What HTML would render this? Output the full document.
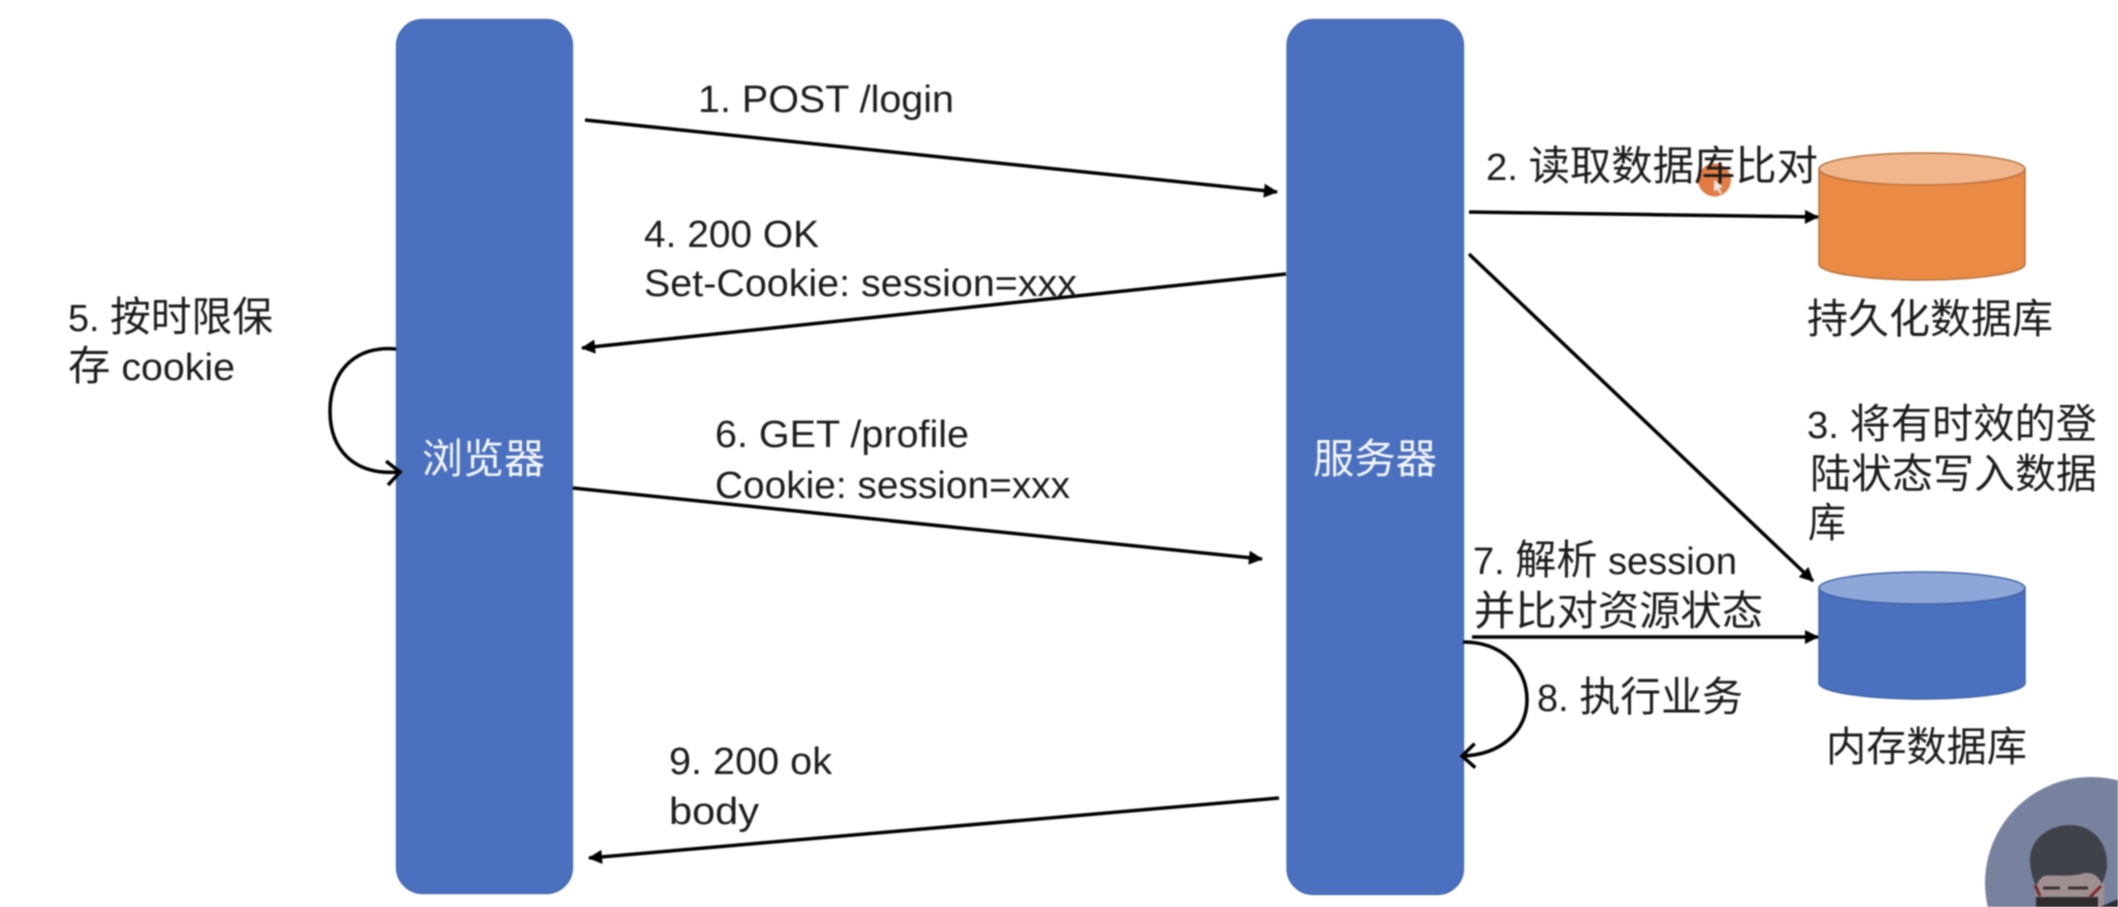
<!DOCTYPE html>
<html lang="zh">
<head>
<meta charset="utf-8">
<title>Session login flow</title>
<style>
html,body{margin:0;padding:0;background:#fff;width:2118px;height:907px;overflow:hidden}
svg{display:block;filter:blur(.7px)}
text{font-family:"Liberation Sans","Noto Sans CJK SC",sans-serif;font-size:38px;fill:#1c1c1c}
.c,tspan.c{font-size:41px}
.w{fill:#f4f6fb}
.ln{stroke:#000;stroke-width:3.5;fill:none}
</style>
</head>
<body>
<svg width="2118" height="907" viewBox="0 0 2118 907" xmlns="http://www.w3.org/2000/svg">
<defs>
<marker id="a" markerUnits="userSpaceOnUse" markerWidth="16" markerHeight="16" refX="14" refY="8" orient="auto"><path d="M1 1 L15 8 L1 15 Z" fill="#000"/></marker>
<marker id="o" markerUnits="userSpaceOnUse" markerWidth="24" markerHeight="28" refX="16" refY="14" orient="auto"><path d="M3 2 L16 14 L3 26" fill="none" stroke="#000" stroke-width="3.5"/></marker>
<clipPath id="cam"><circle cx="2091" cy="883" r="106"/></clipPath>
</defs>
<rect width="2118" height="907" fill="#fff"/>

<rect x="396.5" y="19.5" width="176" height="874" rx="26" fill="#4b70bf" stroke="#4166ae" stroke-width="1.2"/>
<rect x="1287" y="19.5" width="176.5" height="875" rx="26" fill="#4b70bf" stroke="#4166ae" stroke-width="1.2"/>

<path d="M1819 169 V264 A103 16 0 0 0 2025 264 V169 Z" fill="#ea8a45" stroke="#b5703b" stroke-width="1.5"/>
<ellipse cx="1922" cy="169" rx="103" ry="16" fill="#f2b68c" stroke="#b5703b" stroke-width="1.5"/>
<path d="M1819 588 V683 A103 16 0 0 0 2025 683 V588 Z" fill="#4b70bf" stroke="#3e62a6" stroke-width="1.5"/>
<ellipse cx="1922" cy="588" rx="103" ry="16" fill="#8fa6d8" stroke="#3e62a6" stroke-width="1.5"/>

<circle cx="1714.5" cy="180" r="16.5" fill="#e27c42"/>
<path d="M1714 180 V192 L1717 189 L1720 194 L1722 193 L1719 188 L1723 187 Z" fill="#e8e8e8"/>

<line class="ln" x1="585" y1="120" x2="1277" y2="192" marker-end="url(#a)"/>
<line class="ln" x1="1469" y1="212" x2="1818" y2="217" marker-end="url(#a)"/>
<line class="ln" x1="1469" y1="254" x2="1813" y2="581" marker-end="url(#a)"/>
<line class="ln" x1="1286" y1="274" x2="582" y2="348" marker-end="url(#a)"/>
<line class="ln" x1="573" y1="488" x2="1262" y2="559" marker-end="url(#a)"/>
<line class="ln" x1="1472" y1="637" x2="1818" y2="637" marker-end="url(#a)"/>
<line class="ln" x1="1279" y1="798" x2="589" y2="858" marker-end="url(#a)"/>
<path class="ln" d="M396 349 C352 345 330 375 330 411 C330 448 352 476 400 472" marker-end="url(#o)"/>
<path class="ln" d="M1463 642 C1503 642 1527 668 1527 700 C1527 732 1500 755 1462 756" marker-end="url(#o)"/>

<text x="698" y="112" textLength="256" lengthAdjust="spacingAndGlyphs">1. POST /login</text>
<text x="1486" y="180" textLength="332" lengthAdjust="spacingAndGlyphs">2. <tspan class="c">读取数据库比对</tspan></text>
<text x="644" y="247" textLength="175" lengthAdjust="spacingAndGlyphs">4. 200 OK</text>
<text x="644" y="296" textLength="433" lengthAdjust="spacingAndGlyphs">Set-Cookie: session=xxx</text>
<text x="68" y="331" textLength="205" lengthAdjust="spacingAndGlyphs">5. <tspan class="c">按时限保</tspan></text>
<text x="68" y="380" textLength="167" lengthAdjust="spacingAndGlyphs"><tspan class="c">存</tspan> cookie</text>
<text class="w c" x="422" y="473" textLength="123" lengthAdjust="spacingAndGlyphs">浏览器</text>
<text class="w c" x="1313" y="473" textLength="124" lengthAdjust="spacingAndGlyphs">服务器</text>
<text class="c" x="1807" y="333" textLength="246" lengthAdjust="spacingAndGlyphs">持久化数据库</text>
<text x="1807" y="438" textLength="290" lengthAdjust="spacingAndGlyphs">3. <tspan class="c">将有时效的登</tspan></text>
<text class="c" x="1810" y="488" textLength="287" lengthAdjust="spacingAndGlyphs">陆状态写入数据</text>
<text class="c" x="1808" y="537" textLength="38" lengthAdjust="spacingAndGlyphs">库</text>
<text x="715" y="447" textLength="254" lengthAdjust="spacingAndGlyphs">6. GET /profile</text>
<text x="715" y="498" textLength="355" lengthAdjust="spacingAndGlyphs">Cookie: session=xxx</text>
<text x="1473" y="574" textLength="264" lengthAdjust="spacingAndGlyphs">7. <tspan class="c">解析</tspan> session</text>
<text class="c" x="1474" y="625" textLength="289" lengthAdjust="spacingAndGlyphs">并比对资源状态</text>
<text x="1537" y="711" textLength="206" lengthAdjust="spacingAndGlyphs">8. <tspan class="c">执行业务</tspan></text>
<text class="c" x="1826" y="761" textLength="201" lengthAdjust="spacingAndGlyphs">内存数据库</text>
<text x="669" y="774" textLength="163" lengthAdjust="spacingAndGlyphs">9. 200 ok</text>
<text x="669" y="824" textLength="90" lengthAdjust="spacingAndGlyphs">body</text>

<g clip-path="url(#cam)">
<rect x="1980" y="770" width="140" height="140" fill="#78829f"/>
<path d="M2036 907 V868 H2104 V907 Z" fill="#a08f90"/>
<path d="M2030 858 C2031 838 2050 825 2070 825 C2092 825 2108 842 2107 866 C2106 874 2104 880 2102 884 C2098 876 2094 872 2084 873 C2070 878 2052 874 2044 876 C2040 878 2038 882 2036 886 C2032 878 2030 868 2030 858 Z" fill="#3f4249"/>
<path d="M2043 888 H2060 M2068 888 H2088" stroke="#3a3034" stroke-width="3"/>
<path d="M2036 897 H2098 V907 H2036 Z" fill="#2e2a2e"/>
<path d="M2035 885 L2040 896 M2101 886 L2090 897" stroke="#7e2a30" stroke-width="3"/>
<path d="M2100 907 L2118 899 V907 Z" fill="#2a2c35"/>
</g>
</svg>
</body>
</html>
